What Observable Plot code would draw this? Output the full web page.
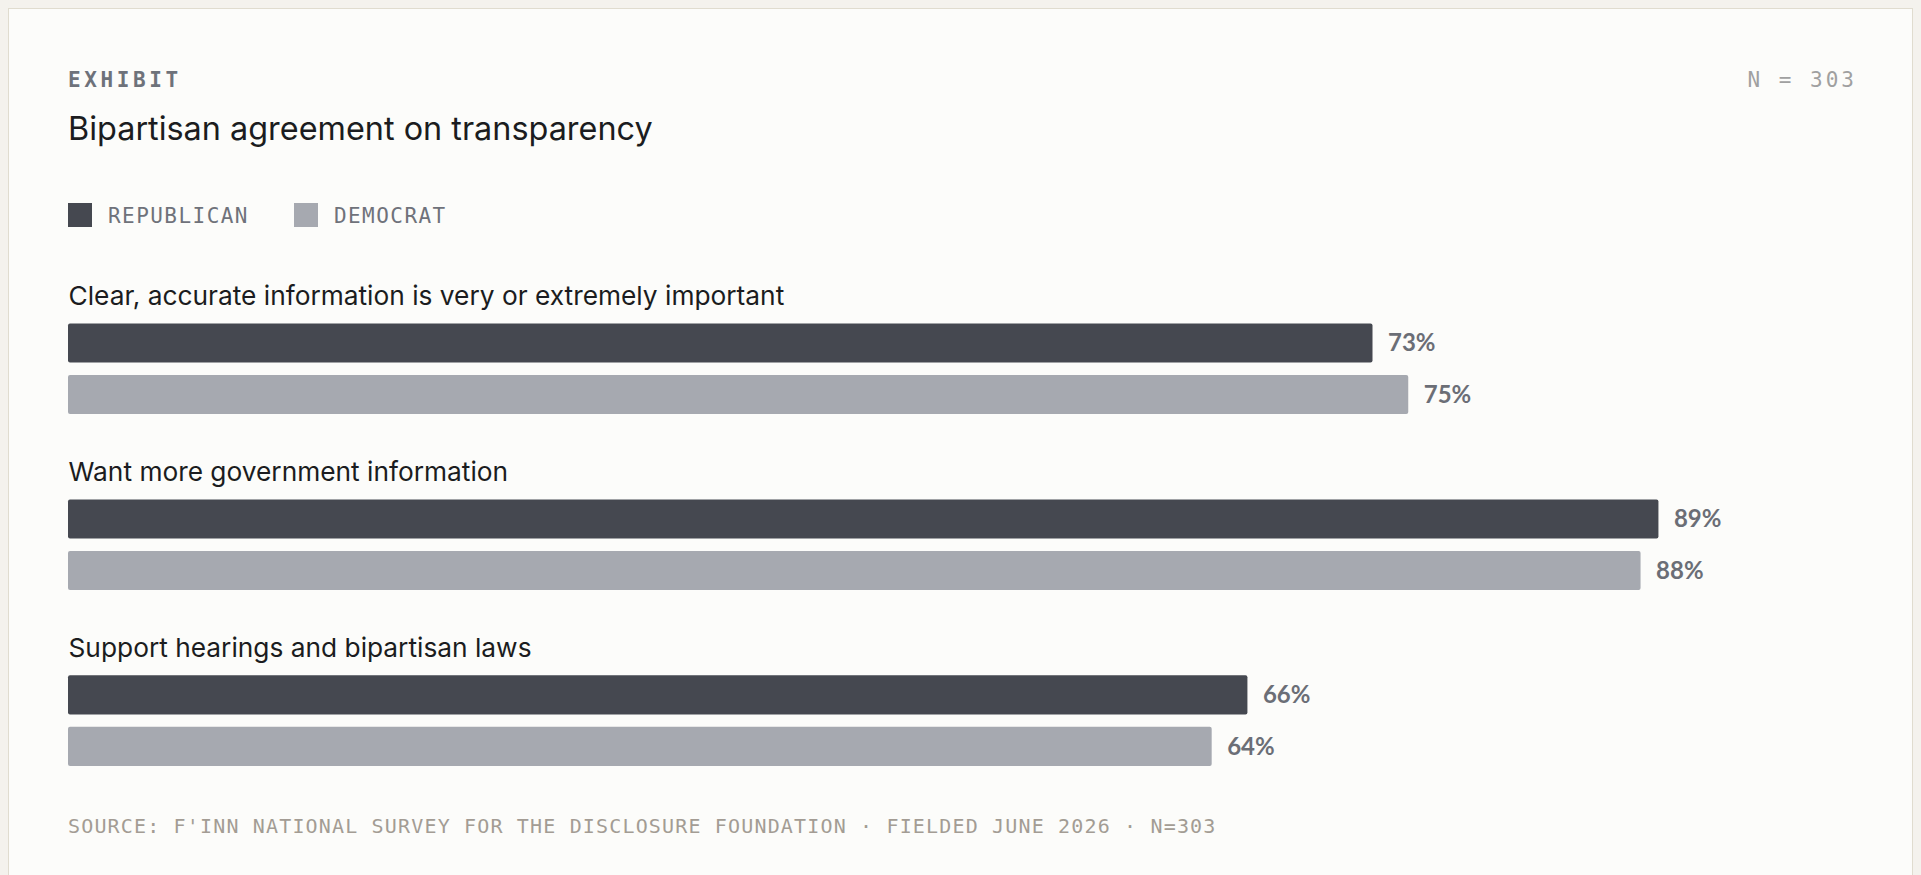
<!DOCTYPE html>
<html>
<head>
<meta charset="utf-8">
<script src="https://cdn.jsdelivr.net/npm/d3@7"></script>
<script src="https://cdn.jsdelivr.net/npm/@observablehq/plot@0.6"></script>
<style>
  html, body { margin: 0; padding: 0; overflow: hidden; width: 1921px; height: 875px; background: #f4f2ed; }
  body { position: relative; }
  .card { position: absolute; left: 8px; top: 8px; width: 1903px; height: 1000px; border: 1px solid #e0dccf; background: #fcfcfa; }
  .abs { position: absolute; white-space: nowrap; line-height: 1; }
  #exhibit { left: 68px; top: 69.5px; font-family: "DejaVu Sans Mono", monospace; font-weight: 700; font-size: 21px; letter-spacing: 3.6px; color: #6e727a; }
  #n { right: 64px; top: 70px; font-family: "DejaVu Sans Mono", monospace; font-size: 21px; letter-spacing: 3px; color: #a0a0a0; }
  #title { left: 68px; top: 112.5px; font-family: Inter, sans-serif; font-size: 32.4px; font-weight: 400; color: #1b1c20; }
  #legend { left: 68px; top: 203px; display: flex; align-items: center; font-family: "DejaVu Sans Mono", monospace; font-size: 21px; letter-spacing: 1.45px; color: #6f727a; }
  #legend .item { display: flex; align-items: center; margin-right: 45px; }
  #legend .sw { width: 24px; height: 24px; margin-right: 16px; }
  #legend .lb { position: relative; top: 1.5px; }
  #chart { left: 9px; top: 250px; }
  #footer { left: 68px; top: 816px; font-family: "DejaVu Sans Mono", monospace; font-size: 20px; letter-spacing: 1.16px; color: #a39c94; }
</style>
</head>
<body>
<div class="card"></div>
<div id="exhibit" class="abs">EXHIBIT</div>
<div id="n" class="abs">N = 303</div>
<div id="title" class="abs">Bipartisan agreement on transparency</div>
<div id="legend" class="abs"></div>
<div id="chart" class="abs"></div>
<div id="footer" class="abs">SOURCE: F'INN NATIONAL SURVEY FOR THE DISCLOSURE FOUNDATION · FIELDED JUNE 2026 · N=303</div>
<script>
const questions = [
  "Clear, accurate information is very or extremely important",
  "Want more government information",
  "Support hearings and bipartisan laws"
];
const parties = ["Republican", "Democrat"];
const partyColors = ["#454850", "#a6a9b0"];
const republican = [73, 89, 66];
const democrat = [75, 88, 64];

const data = questions.flatMap((q, i) => [
  {question: q, party: parties[0], value: republican[i]},
  {question: q, party: parties[1], value: democrat[i]}
]);

// legend
const legend = document.getElementById("legend");
parties.forEach((p, i) => {
  const item = document.createElement("div");
  item.className = "item";
  const sw = document.createElement("span");
  sw.className = "sw";
  sw.style.background = partyColors[i];
  const label = document.createElement("span");
  label.className = "lb";
  label.textContent = p.toUpperCase();
  item.append(sw, label);
  legend.append(item);
});

const chart = Plot.plot({
  width: 1903,
  height: 530,
  marginTop: 73.4,
  marginBottom: 14,
  marginLeft: 59,
  marginRight: 57,
  x: {domain: [0, 100], axis: null},
  y: {domain: parties, axis: null, paddingInner: 0.24, paddingOuter: 0, round: false},
  fy: {domain: questions, axis: null, paddingInner: 0.485, paddingOuter: 0, round: false},
  color: {domain: parties, range: partyColors},
  style: {background: "transparent", overflow: "visible"},
  marks: [
    Plot.barX(data, {x: "value", y: "party", fy: "question", fill: "party", rx: 2}),
    Plot.text(data, {
      x: "value", y: "party", fy: "question",
      text: d => `${d.value}%`,
      textAnchor: "start", dx: 15,
      fill: "#6b6e76", fontSize: 24, fontWeight: 700, fontFamily: "Lato"
    }),
    Plot.text(questions, {
      fy: d => d, text: d => d,
      frameAnchor: "top-left", textAnchor: "start", lineAnchor: "bottom", dy: -19,
      fill: "#1b1c20", fontSize: 26.3, fontFamily: "Inter"
    })
  ]
});
document.getElementById("chart").append(chart);
</script>
</body>
</html>
